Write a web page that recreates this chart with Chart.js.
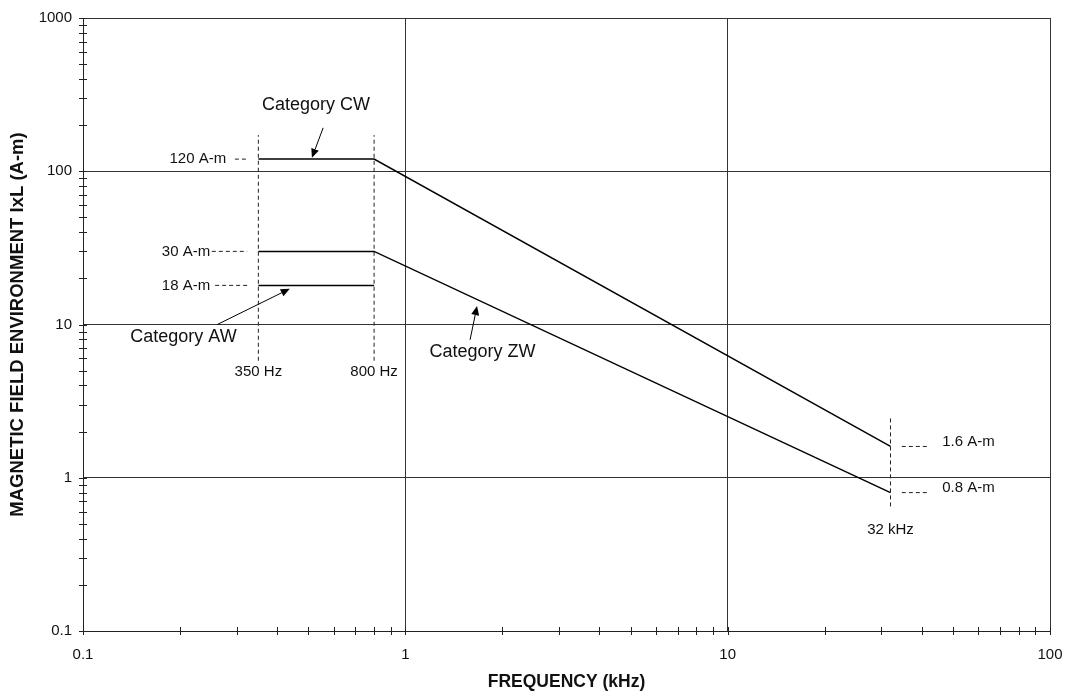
<!DOCTYPE html>
<html lang="en">
<head>
  <meta charset="UTF-8">
  <title>Magnetic Field Environment vs Frequency</title>
  <style>
    html, body {
      margin: 0;
      padding: 0;
      background: #fff;
    }
  </style>
  <script src="https://cdn.jsdelivr.net/npm/chart.js@4/dist/chart.umd.min.js"></script>
</head>
<body>
  <canvas id="chart" width="1066" height="693"></canvas>
  <script>
    // axis decades
    const xTicks = [0.1, 1, 10, 100];
    const yTicks = [0.1, 1, 10, 100, 1000];

    // limit curves (frequency in kHz, level in A-m)
    const cwFreq = [0.35, 0.8, 32];
    const cwLevel = [120, 120, 1.6];
    const zwFreq = [0.35, 0.8, 32];
    const zwLevel = [30, 30, 0.8];
    const awFreq = [0.35, 0.8];
    const awLevel = [18, 18];

    // dashed marker lines at the corner frequencies
    const markerFreq = [0.35, 0.8, 32];
    const markerLow = [5.8, 5.8, 0.65];
    const markerHigh = [172, 172, 2.46];

    // short leader dashes next to level labels
    const leaderLevel = [120, 30, 18, 1.6, 0.8];
    const leaderFrom = [0.296, 0.251, 0.257, 34.7, 34.7];
    const leaderTo = [0.325, 0.323, 0.323, 42.4, 42.4];

    // annotation texts: [text, x, y, align, size]
    const notes = [
      ['Category CW', 0.528, 271, 'center', 18],
      ['Category AW', 0.205, 8.3, 'center', 18],
      ['Category ZW', 1.736, 6.64, 'center', 18],
      ['120 A-m', 0.278, 120, 'right', 15],
      ['30 A-m', 0.248, 30, 'right', 15],
      ['18 A-m', 0.248, 18, 'right', 15],
      ['350 Hz', 0.35, 4.9, 'center', 15],
      ['800 Hz', 0.8, 4.9, 'center', 15],
      ['1.6 A-m', 46.3, 1.72, 'left', 15],
      ['0.8 A-m', 46.3, 0.86, 'left', 15],
      ['32 kHz', 32, 0.458, 'center', 15]
    ];

    // arrows: [fromX, fromY, tipX, tipY]
    const arrows = [
      [0.556, 192, 0.513, 122.3],
      [0.261, 10, 0.438, 17.1],
      [1.588, 7.95, 1.669, 13.2]
    ];

    const FONT = "'Liberation Sans', Arial, sans-serif";

    function pts(xs, ys) {
      return xs.map((x, i) => ({ x: x, y: ys[i] }));
    }

    const datasets = [];
    [[cwFreq, cwLevel], [zwFreq, zwLevel], [awFreq, awLevel]].forEach(s => {
      datasets.push({
        data: pts(s[0], s[1]),
        borderColor: '#000',
        borderWidth: 1.5,
        pointRadius: 0,
        showLine: true,
        fill: false
      });
    });
    markerFreq.forEach((f, i) => {
      datasets.push({
        data: [{ x: f, y: markerLow[i] }, { x: f, y: markerHigh[i] }],
        borderColor: '#222',
        borderWidth: 1,
        borderDash: [4, 3],
        pointRadius: 0,
        showLine: true
      });
    });
    leaderLevel.forEach((lv, i) => {
      datasets.push({
        data: [{ x: leaderFrom[i], y: lv }, { x: leaderTo[i], y: lv }],
        borderColor: '#222',
        borderWidth: 1,
        borderDash: [4, 3],
        pointRadius: 0,
        showLine: true
      });
    });

    const extras = {
      id: 'extras',
      afterDatasetsDraw(chart) {
        const ctx = chart.ctx;
        const xs = chart.scales.x, ys = chart.scales.y;
        const area = chart.chartArea;
        ctx.save();
        ctx.strokeStyle = '#222';
        ctx.lineWidth = 1;

        // tick marks crossing the axes (major + minor)
        ctx.beginPath();
        for (let d = 0.1; d < 100; d *= 10) {
          for (let k = 1; k <= 10; k++) {
            const px = Math.round(xs.getPixelForValue(d * k)) + 0.5;
            ctx.moveTo(px, area.bottom - 4);
            ctx.lineTo(px, area.bottom + 4);
          }
        }
        for (let d = 0.1; d < 1000; d *= 10) {
          for (let k = 1; k <= 10; k++) {
            const py = Math.round(ys.getPixelForValue(d * k)) + 0.5;
            ctx.moveTo(area.left - 4, py);
            ctx.lineTo(area.left + 4, py);
          }
        }
        ctx.stroke();

        // arrows
        ctx.strokeStyle = '#000';
        ctx.fillStyle = '#000';
        arrows.forEach(a => {
          const x0 = xs.getPixelForValue(a[0]), y0 = ys.getPixelForValue(a[1]);
          const x1 = xs.getPixelForValue(a[2]), y1 = ys.getPixelForValue(a[3]);
          const ang = Math.atan2(y1 - y0, x1 - x0);
          const len = 9, half = 4;
          const bx = x1 - len * Math.cos(ang), by = y1 - len * Math.sin(ang);
          ctx.beginPath();
          ctx.moveTo(x0, y0);
          ctx.lineTo(bx, by);
          ctx.stroke();
          ctx.beginPath();
          ctx.moveTo(x1, y1);
          ctx.lineTo(bx + half * Math.sin(ang), by - half * Math.cos(ang));
          ctx.lineTo(bx - half * Math.sin(ang), by + half * Math.cos(ang));
          ctx.closePath();
          ctx.fill();
        });

        // annotation text
        ctx.fillStyle = '#111';
        ctx.textBaseline = 'middle';
        notes.forEach(n => {
          ctx.font = n[4] + 'px ' + FONT;
          ctx.textAlign = n[3];
          ctx.fillText(n[0], xs.getPixelForValue(n[1]), ys.getPixelForValue(n[2]));
        });
        ctx.restore();
      }
    };

    new Chart(document.getElementById('chart').getContext('2d'), {
      type: 'scatter',
      data: { datasets: datasets },
      options: {
        responsive: false,
        animation: false,
        layout: { padding: { top: 18, right: 16, left: 0, bottom: 0 } },
        plugins: {
          legend: { display: false },
          tooltip: { enabled: false }
        },
        scales: {
          x: {
            type: 'logarithmic',
            min: 0.1,
            max: 100,
            afterBuildTicks: s => { s.ticks = xTicks.map(v => ({ value: v })); },
            afterFit: s => { s.height = 62; s.paddingLeft = 0; s.paddingRight = 0; },
            grid: { color: '#333', lineWidth: 1, drawTicks: false },
            border: { display: true, color: '#222' },
            ticks: {
              padding: 15,
              color: '#111',
              font: { family: FONT, size: 15 },
              callback: v => String(v)
            },
            title: {
              display: true,
              text: 'FREQUENCY (kHz)',
              color: '#111',
              font: { family: FONT, size: 17.5, weight: 'bold' },
              padding: { top: 0, bottom: 0 }
            }
          },
          y: {
            type: 'logarithmic',
            min: 0.1,
            max: 1000,
            afterBuildTicks: s => { s.ticks = yTicks.map(v => ({ value: v })); },
            afterFit: s => { s.width = 83; s.paddingTop = 0; s.paddingBottom = 0; },
            grid: { color: '#333', lineWidth: 1, drawTicks: false },
            border: { display: true, color: '#222' },
            ticks: {
              padding: 11,
              color: '#111',
              font: { family: FONT, size: 15 },
              callback: v => String(v)
            },
            title: {
              display: true,
              text: 'MAGNETIC FIELD ENVIRONMENT IxL (A-m)',
              color: '#111',
              font: { family: FONT, size: 18.5, weight: 'bold' },
              padding: { top: 7, bottom: 0 }
            }
          }
        }
      },
      plugins: [extras]
    });
  </script>
</body>
</html>
